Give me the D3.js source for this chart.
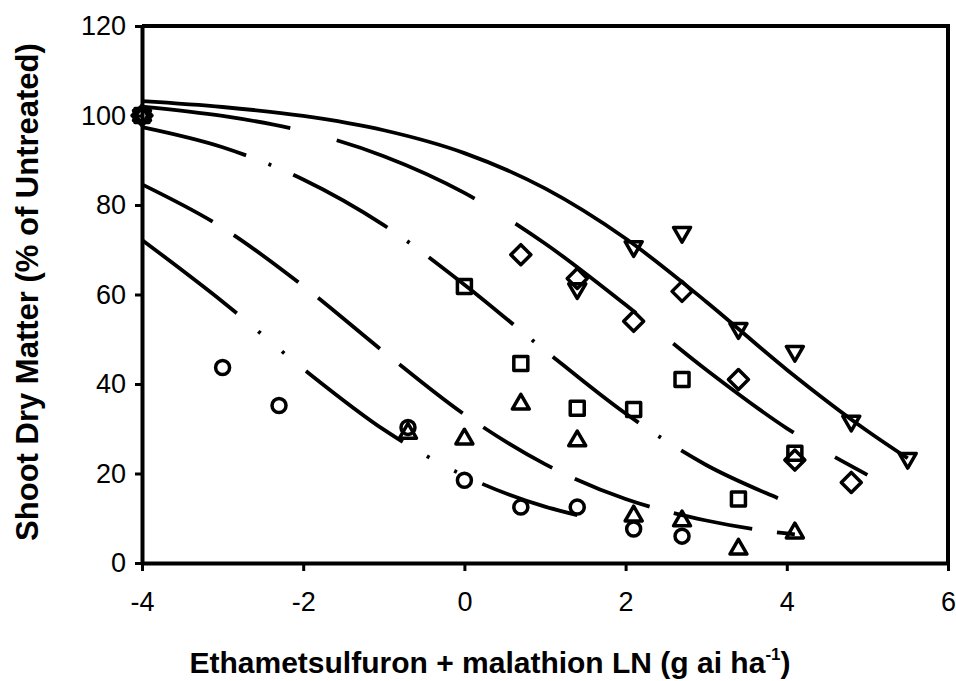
<!DOCTYPE html>
<html>
<head>
<meta charset="utf-8">
<script src="https://cdn.jsdelivr.net/npm/d3@7"></script>
<style>
  body { margin: 0; background: #fff; }
  text { font-family: 'Liberation Sans', Arial, sans-serif; }
</style>
</head>
<body>
<div id="chart"></div>
<script>
// observed points (log dose, % of untreated)
const circleX = [-4, -3, -2.3, -0.7, 0, 0.7, 1.4, 2.1, 2.7];
const circleY = [100, 43.7, 35.2, 30.3, 18.5, 12.5, 12.5, 7.6, 6];
const triUpX = [-4, -0.7, 0, 0.7, 1.4, 2.1, 2.7, 3.4, 4.1];
const triUpY = [100, 29, 27.7, 35.5, 27.3, 10.5, 9.4, 3.1, 6.7];
const squareX = [-4, 0, 0.7, 1.4, 2.1, 2.7, 3.4, 4.1];
const squareY = [100, 61.8, 44.6, 34.6, 34.3, 41, 14.3, 24.5];
const diamondX = [-4, 0.7, 1.4, 2.1, 2.7, 3.4, 4.1, 4.8];
const diamondY = [100, 68.9, 63.6, 54, 60.7, 41, 23, 18];
const triDownX = [-4, 1.4, 2.1, 2.7, 3.4, 4.1, 4.8, 5.5];
const triDownY = [100, 61.3, 70.7, 73.9, 52.4, 47.3, 31.7, 23.4];

// fitted curves
const circleFitX = [-4, -3, -2, -1, 0, 1, 1.4];
const circleFitY = [72.2, 58.4, 43.4, 29.8, 19.5, 12.6, 10.7];
const triUpFitX = [-4, -3, -2, -1, 0, 1, 2, 3, 4, 4.1];
const triUpFitY = [84.6, 74.9, 61.9, 47.2, 33.2, 22.1, 14.3, 9.5, 6.6, 6.4];
const squareFitX = [-4, -3, -2, -1, 0, 1, 2, 3, 4, 4.1];
const squareFitY = [97.4, 92.9, 85.7, 75.5, 62.2, 47.5, 33.4, 21.9, 13.6, 12.8];
const diamondFitX = [-4, -3, -2, -1, 0, 1, 2, 3, 4, 5];
const diamondFitY = [102, 99.9, 96.5, 90.9, 82.7, 71.4, 57.7, 43.2, 30.1, 19.7];
const triDownFitX = [-4, -3, -2, -1, 0, 1, 2, 3, 4, 5, 5.5];
const triDownFitY = [103.2, 101.9, 99.9, 96.7, 91.6, 83.7, 72.5, 58.4, 43.2, 29.5, 23.4];

const xTicks = [-4, -2, 0, 2, 4, 6];
const yTicks = [0, 20, 40, 60, 80, 100, 120];

const width = 956;
const height = 681;
const margin = { top: 26, right: 8, bottom: 118, left: 142 };
const w = width - margin.left - margin.right;
const h = height - margin.top - margin.bottom;

const svg = d3
  .select('#chart')
  .append('svg')
  .attr('width', width)
  .attr('height', height);

const g = svg
  .append('g')
  .attr('transform', `translate(${margin.left},${margin.top})`);

const x = d3.scaleLinear().domain([-4, 6]).range([0, w]);
const y = d3.scaleLinear().domain([0, 120]).range([h, 0]);

const zip = (xs, ys) => xs.map((v, i) => [v, ys[i]]);

// curves
const line = d3
  .line()
  .x((d) => x(d[0]))
  .y((d) => y(d[1]))
  .curve(d3.curveMonotoneX);

const curves = [
  { pts: zip(circleFitX, circleFitY), dash: '120,28,3,28,3,28' },
  { pts: zip(triUpFitX, triUpFitY), dash: '80,25' },
  { pts: zip(squareFitX, squareFitY), dash: '108,24,3,24' },
  { pts: zip(diamondFitX, diamondFitY), dash: '150,48' },
  { pts: zip(triDownFitX, triDownFitY), dash: null },
];

g.selectAll('.fit')
  .data(curves)
  .enter()
  .append('path')
  .attr('class', 'fit')
  .attr('d', (d) => line(d.pts))
  .attr('fill', 'none')
  .attr('stroke', '#000')
  .attr('stroke-width', 3.8)
  .attr('stroke-dasharray', (d) => d.dash);

// markers
const triPath = (s, dir) => {
  const hh = (s * Math.sqrt(3)) / 2;
  const p = d3.path();
  p.moveTo(0, (-dir * 2 * hh) / 3);
  p.lineTo(s / 2, (dir * hh) / 3);
  p.lineTo(-s / 2, (dir * hh) / 3);
  p.closePath();
  return p.toString();
};
const sqPath = (s) => {
  const p = d3.path();
  p.rect(-s / 2, -s / 2, s, s);
  return p.toString();
};
const diaPath = (r) => {
  const p = d3.path();
  p.moveTo(0, -r);
  p.lineTo(r, 0);
  p.lineTo(0, r);
  p.lineTo(-r, 0);
  p.closePath();
  return p.toString();
};
const circPath = (r) => {
  const p = d3.path();
  p.arc(0, 0, r, 0, 2 * Math.PI);
  return p.toString();
};

const series = [
  { pts: zip(circleX, circleY), shape: circPath(7) },
  { pts: zip(triUpX, triUpY), shape: triPath(17, 1) },
  { pts: zip(squareX, squareY), shape: sqPath(14) },
  { pts: zip(diamondX, diamondY), shape: diaPath(10) },
  { pts: zip(triDownX, triDownY), shape: triPath(17, -1) },
];

series.forEach((s) => {
  g.selectAll(null)
    .data(s.pts)
    .enter()
    .append('path')
    .attr('d', s.shape)
    .attr('transform', (d) => `translate(${x(d[0])},${y(d[1])})`)
    .attr('fill', 'none')
    .attr('stroke', '#000')
    .attr('stroke-width', 3.5)
    .attr('stroke-linejoin', 'round');
});

// axes + frame
const fmt = (d) => String(d);
const yAxis = g
  .append('g')
  .call(d3.axisLeft(y).tickValues(yTicks).tickFormat(fmt).tickSize(7).tickSizeOuter(0).tickPadding(9));
const xAxis = g
  .append('g')
  .attr('transform', `translate(0,${h})`)
  .call(d3.axisBottom(x).tickValues(xTicks).tickFormat(fmt).tickSize(8).tickSizeOuter(0).tickPadding(21));

[yAxis, xAxis].forEach((a) => {
  a.select('.domain').attr('stroke-width', 4);
  a.selectAll('.tick line').attr('stroke-width', 3);
  a.selectAll('.tick text')
    .attr('font-size', 27)
    .attr('font-family', "'Liberation Sans', Arial, sans-serif")
    .attr('fill', '#000');
});

g.append('path')
  .attr('d', `M${x(-4)},${y(120)}H${x(6)}V${y(0)}`)
  .attr('fill', 'none')
  .attr('stroke', '#000')
  .attr('stroke-width', 4);

// titles
svg
  .append('text')
  .attr('transform', 'translate(38,292) rotate(-90)')
  .attr('text-anchor', 'middle')
  .attr('font-size', 31)
  .attr('font-weight', 'bold')
  .text('Shoot Dry Matter (% of Untreated)');

const xt = svg
  .append('text')
  .attr('x', 490)
  .attr('y', 673)
  .attr('text-anchor', 'middle')
  .attr('font-size', 30)
  .attr('font-weight', 'bold');
xt.append('tspan').text('Ethametsulfuron + malathion LN (g ai ha');
xt.append('tspan').attr('dy', -13).attr('font-size', 17).text('-1');
xt.append('tspan').attr('dy', 13).text(')');
</script>
</body>
</html>
